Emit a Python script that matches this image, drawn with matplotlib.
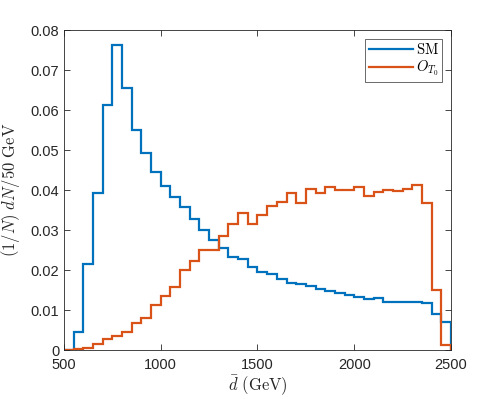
import numpy as np
import matplotlib
matplotlib.use("Agg")
import matplotlib.pyplot as plt

# bin edges of the d-bar distribution (GeV), 50 GeV wide
bin_edges = np.arange(500, 2501, 50)

# normalised histograms
sm = [0.0, 0.0044, 0.0214, 0.0393, 0.0613, 0.0763, 0.0656, 0.0550, 0.0492, 0.0444,
      0.0410, 0.0382, 0.0358, 0.0328, 0.0301, 0.0274, 0.0254, 0.0233, 0.0227, 0.0208,
      0.0194, 0.0189, 0.0177, 0.0168, 0.0166, 0.0161, 0.0152, 0.0147, 0.0143, 0.0138,
      0.0132, 0.0128, 0.0131, 0.0121, 0.0121, 0.0120, 0.0119, 0.0117, 0.0090, 0.0069]
ot0 = [0.0, 0.0003, 0.0006, 0.0016, 0.0028, 0.0035, 0.0045, 0.0067, 0.0080, 0.0113,
       0.0135, 0.0158, 0.0200, 0.0222, 0.0249, 0.0249, 0.0286, 0.0314, 0.0342, 0.0314,
       0.0338, 0.0361, 0.0370, 0.0392, 0.0367, 0.0403, 0.0392, 0.0408, 0.0399, 0.0399,
       0.0408, 0.0384, 0.0394, 0.0399, 0.0397, 0.0403, 0.0413, 0.0368, 0.0149, 0.0013]

plt.rcParams['font.family'] = ['Liberation Sans', 'DejaVu Sans']
plt.rcParams['mathtext.fontset'] = 'cm'

fig = plt.figure(figsize=(4.98, 3.99), dpi=100)
ax = fig.add_axes([0.1285, 0.1228, 0.7771, 0.802])

ax.stairs(sm, bin_edges, color='#0072BD', linewidth=1.6, label=r'$\mathrm{SM}$')
ax.stairs(ot0, bin_edges, color='#D95319', linewidth=1.6, label=r'$O_{T_0}$')

ax.set_xlim(500, 2500)
ax.set_ylim(0, 0.08)
ax.set_xticks([500, 1000, 1500, 2000, 2500])
ax.set_yticks(np.arange(0, 0.081, 0.01))
ax.set_yticklabels(['0', '0.01', '0.02', '0.03', '0.04', '0.05', '0.06', '0.07', '0.08'])

ax.tick_params(direction='in', top=True, right=True, labelsize=10.5,
               color='#262626', labelcolor='#262626', length=4, width=0.6)
ax.tick_params(axis='x', pad=6)
for s in ax.spines.values():
    s.set_color('#262626')
    s.set_linewidth(0.6)

ax.set_xlabel(r'$\bar{d}\ (\mathrm{GeV})$', fontsize=12, color='#262626', labelpad=1)
ax.set_ylabel(r'$(1/N)\ dN/50\ \mathrm{GeV}$', fontsize=12, color='#262626', labelpad=6)

leg = ax.legend(loc='upper right', fancybox=False, edgecolor='#262626',
                handlelength=3.0, handletextpad=0.2, borderpad=0.25, labelspacing=0.1,
                borderaxespad=0.6, prop={'size': 10.5})
leg.get_frame().set_linewidth(0.6)

fig.savefig('out.png', dpi=100)
